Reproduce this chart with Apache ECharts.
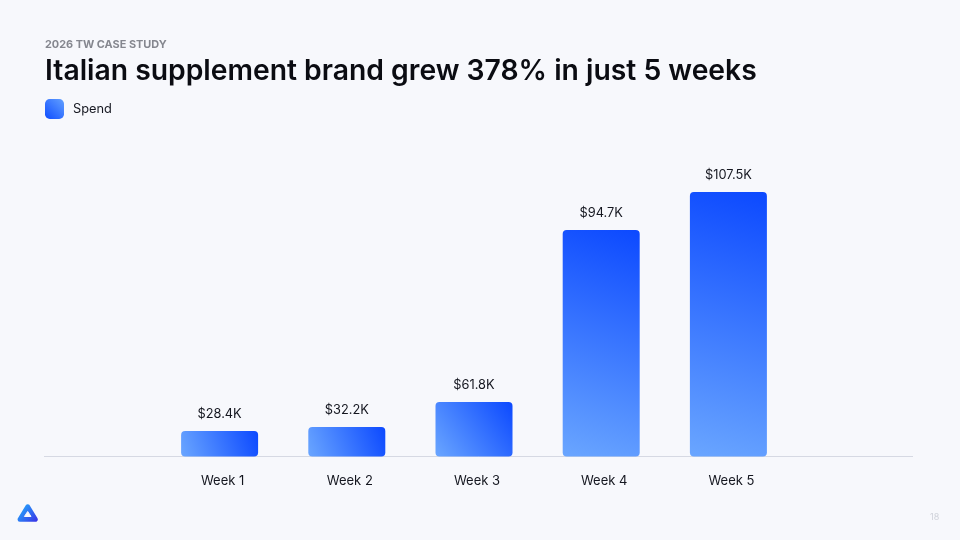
<!DOCTYPE html>
<html><head><meta charset="utf-8">
<style>html,body{margin:0;padding:0;background:#f7f8fc}#c{width:960px;height:540px}</style>
<script src="https://cdn.jsdelivr.net/npm/echarts@6/dist/echarts.min.js"></script>
</head><body><div id="c"></div>
<script>
const categories = ['Week 1','Week 2','Week 3','Week 4','Week 5'];
const barHeights = [10.4, 12.0, 22.2, 92.1, 107.5];
const valueLabels = ['$28.4K','$32.2K','$61.8K','$94.7K','$107.5K'];
const seriesName = 'Spend';
const eyebrow = '2026 TW CASE STUDY';
const heading = 'Italian supplement brand grew 378% in just 5 weeks';
const pageNumber = '18';

const font = 'Inter';
const grad = (x,y,x2,y2,a,b)=>new echarts.graphic.LinearGradient(x,y,x2,y2,[{offset:0,color:a},{offset:1,color:b}]);
const chart = echarts.init(document.getElementById('c'),null,{renderer:'canvas'});
chart.setOption({
  animation:false,
  backgroundColor:'#f7f8fc',
  title:[
    {text:eyebrow,left:45,top:39,padding:0,textStyle:{fontFamily:font,fontSize:10.9,fontWeight:700,color:'#85878f'}},
    {text:heading,left:45,top:57.5,padding:0,textStyle:{fontFamily:font,fontSize:28.3,fontWeight:600,color:'#0b0c12'}},
    {text:pageNumber,left:930,top:513,padding:0,textStyle:{fontFamily:font,fontSize:9,fontWeight:400,color:'#cfd2da'}}
  ],
  legend:{
    left:45,top:99,padding:0,itemWidth:19,itemHeight:20,icon:'roundRect',
    data:[{name:seriesName,itemStyle:{color:grad(1,0,0,1,'#62a0ff','#0f4dff')}}],
    textStyle:{fontFamily:font,fontSize:12.8,color:'#14161f',padding:[0,0,0,4]}
  },
  grid:{left:156,width:636,top:161.3,bottom:83.5,containLabel:false},
  xAxis:{type:'category',data:categories,
    axisLine:{show:false},axisTick:{show:false},
    axisLabel:{margin:18,padding:[0,0,0,6],fontFamily:font,fontSize:13,color:'#14161f'}},
  yAxis:{type:'value',min:0,max:120,show:false,splitLine:{show:false}},
  series:[{
    name:seriesName,type:'bar',data:barHeights,barWidth:77,
    itemStyle:{borderRadius:4,color:grad(0,1,1,0,'#6aa6ff','#0c49ff')},
    label:{show:true,position:'top',distance:10,fontFamily:font,fontSize:12.8,color:'#14161f',
      formatter:p=>valueLabels[p.dataIndex]},
    markLine:{silent:true,symbol:'none',z:1,label:{show:false},
      lineStyle:{color:'#d6d9e3',width:1,type:'solid'},
      data:[[{x:44,yAxis:0},{x:913,yAxis:0}]]}
  }],
  graphic:[
    {type:'polygon',shape:{points:[[27.7,506.5],[35.6,519.5],[19.8,519.5]]},
     style:{fill:grad(0,0,0,1,'#2f8dff','#3b2fe0'),stroke:grad(0,0,1,1,'#22b8ff','#3a2fe6'),lineWidth:4.5,lineJoin:'round'}},
    {type:'polygon',shape:{points:[[27.7,511.5],[31,516.5],[24.4,516.5]]},
     style:{fill:'#f7f8fc',stroke:'#f7f8fc',lineWidth:1,lineJoin:'round'}}
  ]
});
</script></body></html>
